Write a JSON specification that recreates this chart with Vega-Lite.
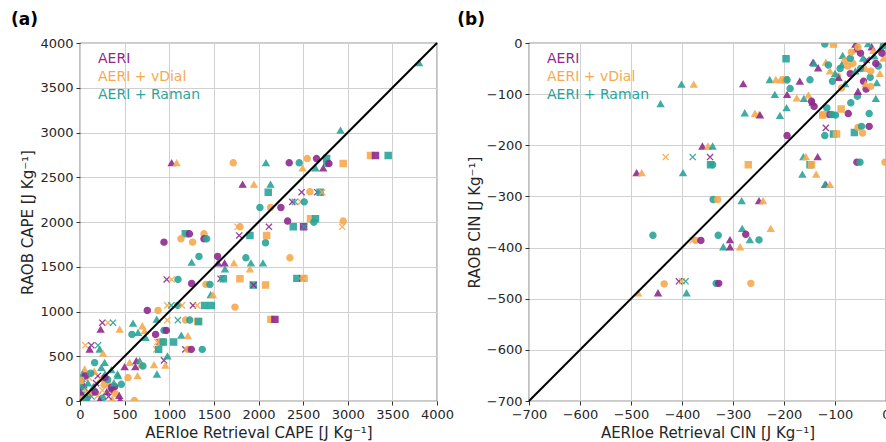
{
"$schema": "https://vega.github.io/schema/vega-lite/v6.json",
"padding": {"left": 10, "top": 10, "right": 0, "bottom": 0},
"spacing": 1,
"config": {
  "font": "DejaVu Sans",
  "view": {"stroke": "#333333", "strokeWidth": 1.2},
  "axis": {"grid": true, "gridColor": "#d0d0d0", "gridWidth": 1, "domain": false, "tickColor": "#333333", "tickSize": 4, "labelFont": "DejaVu Sans", "labelFontSize": 13, "labelColor": "#262626", "titleFont": "DejaVu Sans", "titleFontSize": 15, "titleFontWeight": "normal", "titleColor": "#262626", "labelFlush": false, "labelPadding": 3, "titlePadding": 4, "labelOverlap": false},
  "title": {"fontSize": 17, "fontWeight": "bold", "anchor": "start", "font": "DejaVu Sans", "color": "#000000"}
},
"datasets": {
"pts": [
{"p":"a","s":"T","m":"t","x":3800,"y":3776},
{"p":"a","s":"T","m":"t","x":2919,"y":3024},
{"p":"a","s":"P","m":"t","x":1027,"y":2660},
{"p":"a","s":"O","m":"t","x":1083,"y":2660},
{"p":"a","s":"T","m":"t","x":2083,"y":2660},
{"p":"a","s":"O","m":"c","x":1717,"y":2661},
{"p":"a","s":"P","m":"c","x":2344,"y":2661},
{"p":"a","s":"T","m":"c","x":2456,"y":2661},
{"p":"a","s":"O","m":"c","x":2546,"y":2709},
{"p":"a","s":"P","m":"c","x":2650,"y":2709},
{"p":"a","s":"T","m":"s","x":2763,"y":2709},
{"p":"a","s":"T","m":"c","x":2763,"y":2653},
{"p":"a","s":"P","m":"c","x":2789,"y":2653},
{"p":"a","s":"O","m":"s","x":2949,"y":2653},
{"p":"a","s":"O","m":"s","x":3255,"y":2742},
{"p":"a","s":"P","m":"s","x":3311,"y":2742},
{"p":"a","s":"T","m":"s","x":3453,"y":2742},
{"p":"a","s":"O","m":"t","x":2494,"y":2601},
{"p":"a","s":"T","m":"t","x":2639,"y":2601},
{"p":"a","s":"P","m":"t","x":2725,"y":2601},
{"p":"a","s":"P","m":"t","x":1822,"y":2419},
{"p":"a","s":"O","m":"t","x":1949,"y":2419},
{"p":"a","s":"T","m":"t","x":2135,"y":2419},
{"p":"a","s":"T","m":"s","x":2109,"y":2333},
{"p":"a","s":"P","m":"x","x":2483,"y":2333},
{"p":"a","s":"O","m":"c","x":2576,"y":2338},
{"p":"a","s":"P","m":"x","x":2658,"y":2333},
{"p":"a","s":"T","m":"s","x":2690,"y":2333},
{"p":"a","s":"O","m":"x","x":2714,"y":2333},
{"p":"a","s":"P","m":"x","x":2378,"y":2225},
{"p":"a","s":"T","m":"x","x":2408,"y":2225},
{"p":"a","s":"O","m":"x","x":2475,"y":2225},
{"p":"a","s":"T","m":"c","x":2512,"y":2225},
{"p":"a","s":"T","m":"c","x":2016,"y":2162},
{"p":"a","s":"O","m":"c","x":2135,"y":2162},
{"p":"a","s":"P","m":"c","x":2251,"y":2162},
{"p":"a","s":"P","m":"c","x":2326,"y":2010},
{"p":"a","s":"O","m":"s","x":2583,"y":2036},
{"p":"a","s":"T","m":"s","x":2639,"y":2036},
{"p":"a","s":"T","m":"c","x":2620,"y":1998},
{"p":"a","s":"O","m":"c","x":2949,"y":2010},
{"p":"a","s":"O","m":"x","x":2938,"y":1946},
{"p":"a","s":"O","m":"x","x":1766,"y":1946},
{"p":"a","s":"O","m":"c","x":1792,"y":1946},
{"p":"a","s":"P","m":"x","x":2117,"y":1946},
{"p":"a","s":"T","m":"s","x":2389,"y":1946},
{"p":"a","s":"P","m":"s","x":2505,"y":1946},
{"p":"a","s":"T","m":"x","x":2513,"y":1946},
{"p":"a","s":"P","m":"c","x":941,"y":1775},
{"p":"a","s":"O","m":"c","x":1262,"y":1775},
{"p":"a","s":"T","m":"c","x":2079,"y":1768},
{"p":"a","s":"T","m":"s","x":1180,"y":1868},
{"p":"a","s":"P","m":"c","x":1226,"y":1868},
{"p":"a","s":"O","m":"c","x":1389,"y":1868},
{"p":"a","s":"O","m":"c","x":1131,"y":1812},
{"p":"a","s":"P","m":"c","x":1389,"y":1812},
{"p":"a","s":"T","m":"c","x":1419,"y":1812},
{"p":"a","s":"P","m":"x","x":1784,"y":1850},
{"p":"a","s":"T","m":"s","x":1904,"y":1850},
{"p":"a","s":"O","m":"s","x":2091,"y":1850},
{"p":"a","s":"T","m":"c","x":1333,"y":1615},
{"p":"a","s":"P","m":"c","x":1542,"y":1615},
{"p":"a","s":"T","m":"c","x":1859,"y":1600},
{"p":"a","s":"O","m":"c","x":2352,"y":1600},
{"p":"a","s":"T","m":"t","x":1251,"y":1548},
{"p":"a","s":"P","m":"t","x":1546,"y":1540},
{"p":"a","s":"P","m":"t","x":1620,"y":1540},
{"p":"a","s":"O","m":"t","x":1725,"y":1540},
{"p":"a","s":"T","m":"t","x":1915,"y":1540},
{"p":"a","s":"T","m":"t","x":2050,"y":1540},
{"p":"a","s":"T","m":"t","x":1624,"y":1473},
{"p":"a","s":"O","m":"t","x":1904,"y":1473},
{"p":"a","s":"P","m":"x","x":971,"y":1358},
{"p":"a","s":"O","m":"x","x":1027,"y":1358},
{"p":"a","s":"T","m":"c","x":1098,"y":1358},
{"p":"a","s":"P","m":"x","x":1575,"y":1366},
{"p":"a","s":"T","m":"s","x":1605,"y":1366},
{"p":"a","s":"O","m":"s","x":1792,"y":1366},
{"p":"a","s":"T","m":"s","x":2430,"y":1370},
{"p":"a","s":"P","m":"x","x":2490,"y":1370},
{"p":"a","s":"O","m":"s","x":2510,"y":1370},
{"p":"a","s":"P","m":"c","x":1251,"y":1313},
{"p":"a","s":"O","m":"c","x":1411,"y":1303},
{"p":"a","s":"T","m":"c","x":1456,"y":1303},
{"p":"a","s":"T","m":"s","x":1941,"y":1295},
{"p":"a","s":"P","m":"x","x":1945,"y":1295},
{"p":"a","s":"O","m":"s","x":2079,"y":1295},
{"p":"a","s":"T","m":"t","x":1464,"y":1185},
{"p":"a","s":"O","m":"t","x":1490,"y":1185},
{"p":"a","s":"O","m":"c","x":1736,"y":1049},
{"p":"a","s":"O","m":"s","x":2139,"y":912},
{"p":"a","s":"P","m":"s","x":2184,"y":912},
{"p":"a","s":"O","m":"x","x":978,"y":1068},
{"p":"a","s":"T","m":"x","x":1023,"y":1068},
{"p":"a","s":"T","m":"c","x":1097,"y":1068},
{"p":"a","s":"O","m":"x","x":1142,"y":1068},
{"p":"a","s":"P","m":"x","x":1265,"y":1068},
{"p":"a","s":"O","m":"x","x":1314,"y":1068},
{"p":"a","s":"T","m":"s","x":1396,"y":1068},
{"p":"a","s":"T","m":"s","x":1471,"y":1068},
{"p":"a","s":"P","m":"c","x":754,"y":1012},
{"p":"a","s":"O","m":"c","x":874,"y":1012},
{"p":"a","s":"O","m":"x","x":978,"y":904},
{"p":"a","s":"T","m":"x","x":1097,"y":904},
{"p":"a","s":"O","m":"c","x":1183,"y":904},
{"p":"a","s":"T","m":"c","x":1230,"y":904},
{"p":"a","s":"O","m":"s","x":1320,"y":889},
{"p":"a","s":"T","m":"s","x":1329,"y":889},
{"p":"a","s":"P","m":"x","x":250,"y":875},
{"p":"a","s":"O","m":"x","x":314,"y":875},
{"p":"a","s":"T","m":"x","x":370,"y":875},
{"p":"a","s":"P","m":"t","x":231,"y":800},
{"p":"a","s":"O","m":"t","x":444,"y":800},
{"p":"a","s":"T","m":"t","x":594,"y":867},
{"p":"a","s":"T","m":"t","x":650,"y":763},
{"p":"a","s":"T","m":"c","x":582,"y":744},
{"p":"a","s":"O","m":"t","x":698,"y":837},
{"p":"a","s":"O","m":"t","x":724,"y":782},
{"p":"a","s":"P","m":"c","x":847,"y":744},
{"p":"a","s":"T","m":"t","x":735,"y":707},
{"p":"a","s":"T","m":"c","x":941,"y":789},
{"p":"a","s":"P","m":"c","x":967,"y":789},
{"p":"a","s":"T","m":"t","x":859,"y":911},
{"p":"a","s":"T","m":"t","x":1135,"y":733},
{"p":"a","s":"O","m":"t","x":1209,"y":726},
{"p":"a","s":"O","m":"x","x":866,"y":659},
{"p":"a","s":"P","m":"x","x":892,"y":659},
{"p":"a","s":"O","m":"s","x":910,"y":659},
{"p":"a","s":"T","m":"s","x":933,"y":659},
{"p":"a","s":"T","m":"s","x":1049,"y":659},
{"p":"a","s":"O","m":"x","x":60,"y":622},
{"p":"a","s":"P","m":"x","x":127,"y":622},
{"p":"a","s":"T","m":"x","x":202,"y":622},
{"p":"a","s":"P","m":"t","x":108,"y":577},
{"p":"a","s":"T","m":"t","x":220,"y":577},
{"p":"a","s":"O","m":"t","x":258,"y":532},
{"p":"a","s":"O","m":"x","x":855,"y":577},
{"p":"a","s":"T","m":"s","x":881,"y":577},
{"p":"a","s":"P","m":"x","x":1180,"y":577},
{"p":"a","s":"O","m":"c","x":1209,"y":577},
{"p":"a","s":"P","m":"c","x":1247,"y":577},
{"p":"a","s":"T","m":"c","x":1370,"y":577},
{"p":"a","s":"T","m":"c","x":164,"y":428},
{"p":"a","s":"T","m":"t","x":239,"y":372},
{"p":"a","s":"T","m":"t","x":276,"y":428},
{"p":"a","s":"T","m":"t","x":351,"y":346},
{"p":"a","s":"O","m":"t","x":52,"y":354},
{"p":"a","s":"P","m":"t","x":500,"y":380},
{"p":"a","s":"O","m":"t","x":556,"y":428},
{"p":"a","s":"P","m":"t","x":631,"y":447},
{"p":"a","s":"T","m":"t","x":668,"y":447},
{"p":"a","s":"O","m":"t","x":680,"y":400},
{"p":"a","s":"T","m":"c","x":705,"y":391},
{"p":"a","s":"P","m":"t","x":620,"y":380},
{"p":"a","s":"O","m":"t","x":829,"y":402},
{"p":"a","s":"P","m":"x","x":941,"y":454},
{"p":"a","s":"T","m":"t","x":980,"y":500},
{"p":"a","s":"O","m":"t","x":956,"y":398},
{"p":"a","s":"T","m":"t","x":862,"y":298},
{"p":"a","s":"O","m":"c","x":538,"y":261},
{"p":"a","s":"T","m":"t","x":426,"y":279},
{"p":"a","s":"O","m":"t","x":645,"y":280},
{"p":"a","s":"P","m":"c","x":388,"y":160},
{"p":"a","s":"T","m":"c","x":463,"y":186},
{"p":"a","s":"P","m":"c","x":360,"y":130},
{"p":"a","s":"T","m":"t","x":20,"y":250},
{"p":"a","s":"P","m":"t","x":40,"y":180},
{"p":"a","s":"O","m":"t","x":60,"y":120},
{"p":"a","s":"T","m":"s","x":10,"y":60},
{"p":"a","s":"P","m":"c","x":80,"y":40},
{"p":"a","s":"O","m":"c","x":120,"y":90},
{"p":"a","s":"T","m":"t","x":150,"y":160},
{"p":"a","s":"P","m":"x","x":180,"y":200},
{"p":"a","s":"O","m":"x","x":200,"y":60},
{"p":"a","s":"T","m":"c","x":250,"y":30},
{"p":"a","s":"P","m":"t","x":300,"y":100},
{"p":"a","s":"O","m":"t","x":330,"y":200},
{"p":"a","s":"T","m":"t","x":280,"y":300},
{"p":"a","s":"P","m":"c","x":350,"y":150},
{"p":"a","s":"O","m":"c","x":400,"y":80},
{"p":"a","s":"T","m":"t","x":30,"y":300},
{"p":"a","s":"O","m":"x","x":100,"y":260},
{"p":"a","s":"T","m":"x","x":130,"y":50},
{"p":"a","s":"P","m":"t","x":220,"y":10},
{"p":"a","s":"O","m":"c","x":270,"y":180},
{"p":"a","s":"T","m":"c","x":310,"y":240},
{"p":"a","s":"P","m":"x","x":200,"y":280},
{"p":"a","s":"O","m":"t","x":160,"y":330},
{"p":"a","s":"T","m":"t","x":90,"y":200},
{"p":"a","s":"P","m":"c","x":60,"y":280},
{"p":"a","s":"O","m":"c","x":30,"y":20},
{"p":"a","s":"T","m":"c","x":5,"y":150},
{"p":"a","s":"P","m":"t","x":5,"y":100},
{"p":"a","s":"O","m":"t","x":360,"y":20},
{"p":"a","s":"T","m":"t","x":420,"y":300},
{"p":"a","s":"P","m":"x","x":320,"y":50},
{"p":"a","s":"O","m":"x","x":250,"y":120},
{"p":"a","s":"T","m":"t","x":380,"y":200},
{"p":"a","s":"P","m":"c","x":170,"y":100},
{"p":"a","s":"T","m":"s","x":70,"y":10},
{"p":"a","s":"O","m":"s","x":5,"y":230},
{"p":"a","s":"P","m":"t","x":440,"y":60},
{"p":"a","s":"T","m":"c","x":120,"y":310},
{"p":"a","s":"O","m":"t","x":240,"y":250},
{"p":"a","s":"T","m":"x","x":50,"y":150},
{"p":"a","s":"P","m":"c","x":280,"y":260},
{"p":"a","s":"O","m":"c","x":610,"y":5},
{"p":"a","s":"P","m":"t","x":450,"y":10},
{"p":"b","s":"P","m":"t","x":-280,"y":-80},
{"p":"b","s":"T","m":"t","x":-401,"y":-81},
{"p":"b","s":"O","m":"t","x":-377,"y":-81},
{"p":"b","s":"T","m":"t","x":-442,"y":-119},
{"p":"b","s":"P","m":"t","x":-360,"y":-202},
{"p":"b","s":"O","m":"t","x":-349,"y":-202},
{"p":"b","s":"T","m":"t","x":-340,"y":-202},
{"p":"b","s":"O","m":"x","x":-432,"y":-223},
{"p":"b","s":"T","m":"x","x":-379,"y":-223},
{"p":"b","s":"P","m":"x","x":-345,"y":-223},
{"p":"b","s":"T","m":"s","x":-344,"y":-238},
{"p":"b","s":"T","m":"c","x":-340,"y":-238},
{"p":"b","s":"P","m":"t","x":-489,"y":-254},
{"p":"b","s":"O","m":"t","x":-479,"y":-254},
{"p":"b","s":"T","m":"t","x":-398,"y":-254},
{"p":"b","s":"O","m":"s","x":-270,"y":-238},
{"p":"b","s":"T","m":"c","x":-339,"y":-306},
{"p":"b","s":"O","m":"c","x":-330,"y":-306},
{"p":"b","s":"T","m":"t","x":-283,"y":-309},
{"p":"b","s":"P","m":"t","x":-249,"y":-309},
{"p":"b","s":"O","m":"t","x":-241,"y":-309},
{"p":"b","s":"T","m":"c","x":-457,"y":-376},
{"p":"b","s":"O","m":"x","x":-379,"y":-386},
{"p":"b","s":"O","m":"c","x":-373,"y":-386},
{"p":"b","s":"P","m":"c","x":-363,"y":-386},
{"p":"b","s":"T","m":"c","x":-329,"y":-376},
{"p":"b","s":"P","m":"t","x":-306,"y":-385},
{"p":"b","s":"T","m":"t","x":-319,"y":-399},
{"p":"b","s":"P","m":"t","x":-306,"y":-399},
{"p":"b","s":"O","m":"t","x":-286,"y":-399},
{"p":"b","s":"T","m":"t","x":-282,"y":-363},
{"p":"b","s":"P","m":"c","x":-275,"y":-374},
{"p":"b","s":"T","m":"t","x":-267,"y":-385},
{"p":"b","s":"T","m":"c","x":-249,"y":-385},
{"p":"b","s":"O","m":"t","x":-226,"y":-363},
{"p":"b","s":"P","m":"x","x":-406,"y":-466},
{"p":"b","s":"O","m":"x","x":-400,"y":-466},
{"p":"b","s":"T","m":"x","x":-393,"y":-466},
{"p":"b","s":"O","m":"c","x":-435,"y":-471},
{"p":"b","s":"T","m":"c","x":-333,"y":-470},
{"p":"b","s":"P","m":"c","x":-328,"y":-470},
{"p":"b","s":"O","m":"c","x":-265,"y":-470},
{"p":"b","s":"O","m":"t","x":-486,"y":-489},
{"p":"b","s":"P","m":"t","x":-447,"y":-489},
{"p":"b","s":"T","m":"t","x":-391,"y":-489},
{"p":"b","s":"T","m":"t","x":-162,"y":-223},
{"p":"b","s":"O","m":"t","x":-157,"y":-223},
{"p":"b","s":"P","m":"t","x":-134,"y":-223},
{"p":"b","s":"T","m":"s","x":-149,"y":-238},
{"p":"b","s":"O","m":"s","x":-146,"y":-238},
{"p":"b","s":"T","m":"t","x":-164,"y":-257},
{"p":"b","s":"O","m":"t","x":-137,"y":-257},
{"p":"b","s":"P","m":"t","x":-118,"y":-277},
{"p":"b","s":"T","m":"t","x":-120,"y":-277},
{"p":"b","s":"O","m":"t","x":-110,"y":-277},
{"p":"b","s":"P","m":"c","x":-57,"y":-233},
{"p":"b","s":"T","m":"c","x":-51,"y":-233},
{"p":"b","s":"O","m":"c","x":-2,"y":-233},
{"p":"b","s":"P","m":"c","x":-194,"y":-181},
{"p":"b","s":"P","m":"x","x":-118,"y":-166},
{"p":"b","s":"T","m":"c","x":-120,"y":-181},
{"p":"b","s":"T","m":"s","x":-103,"y":-178},
{"p":"b","s":"O","m":"s","x":-97,"y":-178},
{"p":"b","s":"T","m":"s","x":-62,"y":-175},
{"p":"b","s":"O","m":"c","x":-55,"y":-165},
{"p":"b","s":"T","m":"c","x":-48,"y":-163},
{"p":"b","s":"P","m":"c","x":-33,"y":-163},
{"p":"b","s":"O","m":"c","x":-46,"y":-176},
{"p":"b","s":"O","m":"c","x":-123,"y":-140},
{"p":"b","s":"P","m":"c","x":-111,"y":-140},
{"p":"b","s":"T","m":"c","x":-106,"y":-140},
{"p":"b","s":"P","m":"c","x":-74,"y":-138},
{"p":"b","s":"T","m":"c","x":-33,"y":-138},
{"p":"b","s":"O","m":"s","x":-124,"y":-141},
{"p":"b","s":"T","m":"c","x":-99,"y":-141},
{"p":"b","s":"O","m":"s","x":-88,"y":-129},
{"p":"b","s":"T","m":"c","x":-69,"y":-117},
{"p":"b","s":"T","m":"c","x":-56,"y":-104},
{"p":"b","s":"T","m":"c","x":-116,"y":-127},
{"p":"b","s":"T","m":"t","x":-277,"y":-137},
{"p":"b","s":"O","m":"t","x":-257,"y":-138},
{"p":"b","s":"O","m":"t","x":-249,"y":-140},
{"p":"b","s":"P","m":"t","x":-247,"y":-141},
{"p":"b","s":"T","m":"t","x":-208,"y":-142},
{"p":"b","s":"T","m":"t","x":-195,"y":-127},
{"p":"b","s":"T","m":"t","x":-218,"y":-101},
{"p":"b","s":"P","m":"t","x":-194,"y":-101},
{"p":"b","s":"O","m":"t","x":-175,"y":-108},
{"p":"b","s":"T","m":"t","x":-161,"y":-109},
{"p":"b","s":"O","m":"t","x":-152,"y":-102},
{"p":"b","s":"P","m":"t","x":-144,"y":-116},
{"p":"b","s":"P","m":"c","x":-141,"y":-124},
{"p":"b","s":"P","m":"c","x":-146,"y":-114},
{"p":"b","s":"T","m":"t","x":-228,"y":-72},
{"p":"b","s":"O","m":"t","x":-216,"y":-72},
{"p":"b","s":"O","m":"t","x":-207,"y":-72},
{"p":"b","s":"O","m":"s","x":-198,"y":-72},
{"p":"b","s":"T","m":"c","x":-194,"y":-72},
{"p":"b","s":"T","m":"c","x":-188,"y":-89},
{"p":"b","s":"P","m":"t","x":-169,"y":-75},
{"p":"b","s":"T","m":"c","x":-149,"y":-72},
{"p":"b","s":"T","m":"s","x":-196,"y":-31},
{"p":"b","s":"P","m":"t","x":-143,"y":-38},
{"p":"b","s":"O","m":"t","x":-118,"y":-38},
{"p":"b","s":"T","m":"t","x":-141,"y":-40},
{"p":"b","s":"T","m":"c","x":-113,"y":-43},
{"p":"b","s":"P","m":"t","x":-133,"y":-49},
{"p":"b","s":"T","m":"c","x":-120,"y":-2},
{"p":"b","s":"O","m":"s","x":-103,"y":-2},
{"p":"b","s":"P","m":"t","x":-59,"y":-12},
{"p":"b","s":"T","m":"t","x":-85,"y":-25},
{"p":"b","s":"O","m":"c","x":-80,"y":-35},
{"p":"b","s":"T","m":"t","x":-87,"y":-43},
{"p":"b","s":"P","m":"x","x":-38,"y":-33},
{"p":"b","s":"P","m":"c","x":-44,"y":-75},
{"p":"b","s":"T","m":"c","x":-31,"y":-67},
{"p":"b","s":"P","m":"c","x":-39,"y":-90},
{"p":"b","s":"P","m":"c","x":-70,"y":-60},
{"p":"b","s":"O","m":"c","x":-87,"y":-88},
{"p":"b","s":"T","m":"t","x":-18,"y":-78},
{"p":"b","s":"T","m":"t","x":-23,"y":-26},
{"p":"b","s":"O","m":"c","x":-75,"y":-45},
{"p":"b","s":"O","m":"c","x":-65,"y":-40},
{"p":"b","s":"P","m":"t","x":-28,"y":-8},
{"p":"b","s":"T","m":"t","x":-10,"y":-10},
{"p":"b","s":"O","m":"t","x":-5,"y":-30},
{"p":"b","s":"T","m":"c","x":-15,"y":-45},
{"p":"b","s":"P","m":"c","x":-50,"y":-20},
{"p":"b","s":"O","m":"t","x":-40,"y":-50},
{"p":"b","s":"T","m":"t","x":-60,"y":-55},
{"p":"b","s":"O","m":"c","x":-95,"y":-65},
{"p":"b","s":"P","m":"t","x":-93,"y":-68},
{"p":"b","s":"T","m":"t","x":-80,"y":-80},
{"p":"b","s":"T","m":"c","x":-50,"y":-50},
{"p":"b","s":"O","m":"c","x":-30,"y":-55},
{"p":"b","s":"T","m":"t","x":-45,"y":-30},
{"p":"b","s":"P","m":"c","x":-20,"y":-40},
{"p":"b","s":"O","m":"t","x":-25,"y":-15},
{"p":"b","s":"T","m":"c","x":-70,"y":-30},
{"p":"b","s":"P","m":"t","x":-60,"y":-3},
{"p":"b","s":"O","m":"c","x":-55,"y":-8},
{"p":"b","s":"T","m":"t","x":-35,"y":-2},
{"p":"b","s":"O","m":"t","x":-12,"y":-60},
{"p":"b","s":"T","m":"c","x":-5,"y":-5},
{"p":"b","s":"P","m":"c","x":-8,"y":-20},
{"p":"b","s":"O","m":"c","x":-68,"y":-18},
{"p":"b","s":"T","m":"t","x":-100,"y":-60},
{"p":"b","s":"O","m":"t","x":-40,"y":-80},
{"p":"b","s":"T","m":"t","x":-20,"y":-109},
{"p":"b","s":"O","m":"c","x":-30,"y":-85},
{"p":"b","s":"P","m":"t","x":-55,"y":-95},
{"p":"b","s":"T","m":"c","x":-90,"y":-50},
{"p":"b","s":"O","m":"t","x":-110,"y":-55},
{"p":"b","s":"T","m":"c","x":-105,"y":-75}
]
},
"hconcat": [
{
  "title": {"text": "(a)", "dx": -10, "offset": 8},
  "width": 357, "height": 358,
  "layer": [
    {
      "data": {"name": "pts"},
      "transform": [{"filter": "datum.p == 'a'"}],
      "mark": {"type": "point", "filled": true, "size": 38, "strokeWidth": 1.3, "opacity": 0.9, "clip": true},
      "encoding": {
        "x": {"field": "x", "type": "quantitative", "scale": {"domain": [0, 4000], "nice": false, "zero": false}, "axis": {"title": "AERIoe Retrieval CAPE [J Kg⁻¹]", "values": [0,500,1000,1500,2000,2500,3000,3500,4000], "format": "d"}},
        "y": {"field": "y", "type": "quantitative", "scale": {"domain": [0, 4000], "nice": false, "zero": false}, "axis": {"title": "RAOB CAPE [J Kg⁻¹]", "values": [0,500,1000,1500,2000,2500,3000,3500,4000], "format": "d"}},
        "color": {"field": "s", "type": "nominal", "scale": {"domain": ["P","O","T"], "range": ["#8e2a8e","#f6aa4e","#2aa59a"]},
          "legend": {"title": null, "orient": "none", "legendX": 4, "legendY": 9, "symbolOpacity": 0, "symbolSize": 0, "symbolStrokeWidth": 0, "labelOffset": 0, "labelFontSize": 14, "labelFont": "DejaVu Sans", "rowPadding": 4, "padding": 0,
            "labelExpr": "datum.value == 'P' ? 'AERI' : datum.value == 'O' ? 'AERI + vDial' : 'AERI + Raman'",
            "labelColor": {"expr": "datum.value == 'P' ? '#8e2a8e' : datum.value == 'O' ? '#f6aa4e' : '#2aa59a'"}}},
        "stroke": {"field": "s", "type": "nominal", "scale": {"domain": ["P","O","T"], "range": ["#8e2a8e","#f6aa4e","#2aa59a"]}, "legend": null},
        "shape": {"field": "m", "type": "nominal", "scale": {"domain": ["c","s","t","x"], "range": ["circle","square","triangle-up","M-1,-1L1,1M-1,1L1,-1"]}, "legend": null}
      }
    },
    {
      "data": {"values": [{"x": 0, "y": 0}, {"x": 4000, "y": 4000}]},
      "mark": {"type": "line", "color": "#000000", "strokeWidth": 2},
      "encoding": {
        "x": {"field": "x", "type": "quantitative", "title": "AERIoe Retrieval CAPE [J Kg⁻¹]"},
        "y": {"field": "y", "type": "quantitative", "title": "RAOB CAPE [J Kg⁻¹]"}
      }
    }
  ]
},
{
  "title": {"text": "(b)", "dx": -10, "offset": 8},
  "width": 357, "height": 358,
  "layer": [
    {
      "data": {"name": "pts"},
      "transform": [{"filter": "datum.p == 'b'"}],
      "mark": {"type": "point", "filled": true, "size": 38, "strokeWidth": 1.3, "opacity": 0.9, "clip": true},
      "encoding": {
        "x": {"field": "x", "type": "quantitative", "scale": {"domain": [-700, 0], "nice": false, "zero": false}, "axis": {"title": "AERIoe Retrieval CIN [J Kg⁻¹]", "values": [-700,-600,-500,-400,-300,-200,-100,0], "format": "d"}},
        "y": {"field": "y", "type": "quantitative", "scale": {"domain": [-700, 0], "nice": false, "zero": false}, "axis": {"title": "RAOB CIN [J Kg⁻¹]", "values": [-700,-600,-500,-400,-300,-200,-100,0], "format": "d"}},
        "color": {"field": "s", "type": "nominal", "scale": {"domain": ["P","O","T"], "range": ["#8e2a8e","#f6aa4e","#2aa59a"]},
          "legend": {"title": null, "orient": "none", "legendX": 4, "legendY": 9, "symbolOpacity": 0, "symbolSize": 0, "symbolStrokeWidth": 0, "labelOffset": 0, "labelFontSize": 14, "labelFont": "DejaVu Sans", "rowPadding": 4, "padding": 0,
            "labelExpr": "datum.value == 'P' ? 'AERI' : datum.value == 'O' ? 'AERI + vDial' : 'AERI + Raman'",
            "labelColor": {"expr": "datum.value == 'P' ? '#8e2a8e' : datum.value == 'O' ? '#f6aa4e' : '#2aa59a'"}}},
        "stroke": {"field": "s", "type": "nominal", "scale": {"domain": ["P","O","T"], "range": ["#8e2a8e","#f6aa4e","#2aa59a"]}, "legend": null},
        "shape": {"field": "m", "type": "nominal", "scale": {"domain": ["c","s","t","x"], "range": ["circle","square","triangle-up","M-1,-1L1,1M-1,1L1,-1"]}, "legend": null}
      }
    },
    {
      "data": {"values": [{"x": -700, "y": -700}, {"x": 0, "y": 0}]},
      "mark": {"type": "line", "color": "#000000", "strokeWidth": 2},
      "encoding": {
        "x": {"field": "x", "type": "quantitative", "title": "AERIoe Retrieval CIN [J Kg⁻¹]"},
        "y": {"field": "y", "type": "quantitative", "title": "RAOB CIN [J Kg⁻¹]"}
      }
    }
  ]
}
],
"resolve": {"scale": {"x": "independent", "y": "independent"}, "legend": {"color": "independent"}}
}
